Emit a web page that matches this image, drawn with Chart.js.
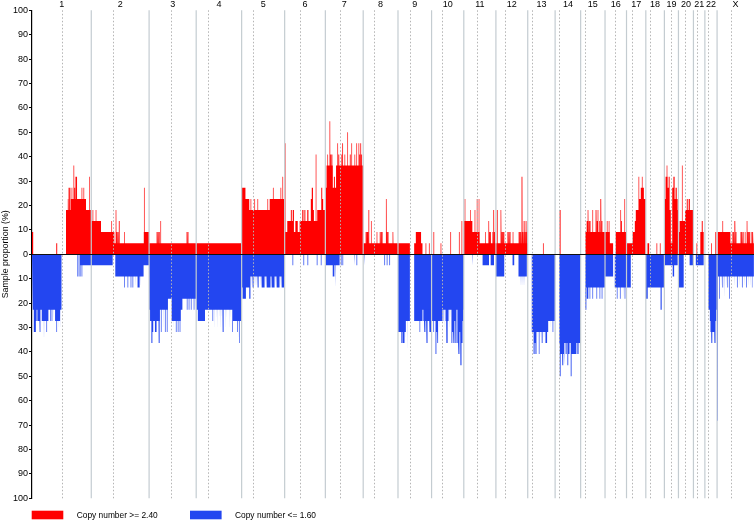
<!DOCTYPE html>
<html>
<head>
<meta charset="utf-8">
<script src="https://cdn.jsdelivr.net/npm/chart.js@4.4.1/dist/chart.umd.min.js"></script>
<style>
html,body{margin:0;padding:0;background:#fff;}
#wrap{width:754px;height:521px;position:relative;}
canvas{display:block;}
</style>
</head>
<body>
<div id="wrap"><canvas id="c" width="754" height="521"></canvas></div>
<script>
// Chromosomes (Mb, hg19-like)
const chromNames = ['1','2','3','4','5','6','7','8','9','10','11','12','13','14','15','16','17','18','19','20','21','22','X'];
const chromLengths = [249.25,243.2,198.02,191.15,180.92,171.12,159.14,146.36,141.21,135.53,135.01,133.85,115.17,107.35,102.53,90.35,81.2,78.08,59.13,63.03,48.13,51.3,155.27];
const centromeres = [125,93.3,91,50.4,48.4,63,59.9,45.6,52,42,53.7,38,17.9,17.6,19,40,24,16,26.5,27.5,13.2,14.7,60.6];
const yTickStep = 10;

// Gain (copy number >= 2.40): [chromosome, start Mb, end Mb, % samples]
const gainSegments = [
 [1,0,5,9.1],[1,102,106,4.5],[1,143,163,18.2],[1,163,227,22.7],[1,227,249,18.2],
 [2,0,41,13.6],[2,41,97,9.1],[2,97,221,4.5],[2,221,243,9.1],
 [3,0,198,4.5],
 [4,0,191,4.5],
 [5,0,16,27.3],[5,16,32,22.7],[5,32,118,18.2],[5,118,181,22.7],
 [6,0,11,9.1],[6,11,26,13.6],[6,26,30,18.2],[6,30,34,13.6],[6,34,39,18.2],[6,39,45,9.1],[6,45,55,13.6],[6,55,63,9.1],[6,63,74,13.6],[6,74,79,18.2],[6,79,83,13.6],[6,83,87,18.2],[6,87,95,13.6],[6,95,100,18.2],[6,100,110,13.6],[6,110,114,22.7],[6,114,119,27.3],[6,119,123,18.2],[6,123,137,13.6],[6,137,154,18.2],[6,154,158,27.3],[6,158,162,22.7],[6,162,171,18.2],
 [7,0,5,27.3],[7,5,31,36.4],[7,31,36,27.3],[7,36,40,31.8],[7,40,45,27.3],[7,45,159,36.4],
 [8,0,146,4.5],
 [9,0,50,4.5],[9,68,75,4.5],[9,75,97,9.1],[9,97,103,4.5],[9,116,119,4.5],[9,130,133,4.5],
 [10,8,11,9.1],[10,24,27,4.5],[10,38,41,4.5],[10,79,82,9.1],[10,91,94,4.5],[10,115,118,9.1],[10,126,129,13.6],
 [11,0,36,13.6],[11,36,66,9.1],[11,66,135,4.5],
 [12,0,134,4.5],
 [13,64,67,4.5],
 [14,19,23,18.2],
 [15,20,102.5,9.1],
 [16,0,20,9.1],[16,20,34,4.5],[16,45,90,9.1],
 [17,0,26,4.5],[17,26,35,9.1],[17,35,39,13.6],[17,39,52,18.2],[17,52,60,22.7],[17,60,73,27.3],[17,73,81,22.7],
 [18,7,14,4.5],[18,45,48,4.5],[18,59,62,4.5],
 [19,0,5,22.7],[19,5,13,31.8],[19,13,18,27.3],[19,18,22,31.8],[19,22,27,18.2],[19,27,33,4.5],[19,33,38,27.3],[19,38,43,31.8],[19,43,47,22.7],[19,47,52,27.3],[19,52,56,22.7],[19,56,59,18.2],
 [20,0,5,9.1],[20,5,10,13.6],[20,10,28,13.6],[20,28,35,18.2],[20,35,39,22.7],[20,39,43,18.2],[20,43,48,22.7],[20,48,63,18.2],
 [21,13,16,4.5],[21,29,35,9.1],[21,35,39,13.6],[21,39,43,9.1],
 [22,27,30,4.5],[22,44,48,9.1],
 [23,0,3,4.5],[23,3,56,9.1],[23,56,155,4.5]
];
// Narrow gain peaks: [chromosome, position Mb, % samples]
const gainSpikes = [
 [1,151,22.7],[1,156,27.3],[1,160,27.3],[1,168,27.3],[1,176,36.4],[1,180,27.3],[1,185,31.8],[1,188,31.8],[1,196,31.8],[1,200,27.3],[1,204,31.8],[1,210,27.3],[1,218,27.3],[1,233,31.8],[1,241,31.8],
 [2,7,18.2],[2,20,18.2],[2,47,13.6],[2,55,13.6],[2,68,13.6],[2,76,18.2],[2,86,13.6],[2,104,18.2],[2,108,9.1],[2,113,9.1],[2,118,13.6],[2,127,9.1],[2,139,9.1],[2,152,9.1],[2,173,13.6],[2,177,9.1],[2,190,9.1],[2,198,9.1],[2,223,27.3],[2,236,18.2],
 [3,33,9.1],[3,38,9.1],[3,43,9.1],[3,49,13.6],[3,56,9.1],[3,60,9.1],[3,120,9.1],[3,159,9.1],[3,164,9.1],
 [4,86,9.1],[4,186,9.1],
 [5,39,22.7],[5,55,22.7],[5,68,22.7],[5,110,22.7],[5,125,31.8],[5,133,27.3],[5,142,27.3],[5,165,27.3],[5,173,31.8],
 [6,2,45.5],[6,132,40.9],
 [7,10,40.9],[7,13,40.9],[7,19,54.5],[7,23,40.9],[7,28,40.9],[7,47,40.9],[7,52,45.5],[7,57,40.9],[7,60,40.9],[7,64,40.9],[7,69,40.9],[7,73,45.5],[7,82,40.9],[7,85,40.9],[7,94,50.0],[7,102,40.9],[7,105,40.9],[7,111,45.5],[7,124,40.9],[7,127,40.9],[7,132,45.5],[7,141,45.5],[7,145,40.9],[7,149,45.5],[7,153,40.9],[7,156,40.9],
 [8,9,22.7],[8,13,9.1],[8,17,9.1],[8,20,9.1],[8,24,18.2],[8,34,13.6],[8,58,9.1],[8,71,9.1],[8,76,9.1],[8,80,9.1],[8,97,22.7],[8,101,9.1],[8,105,9.1],[8,111,13.6],[8,125,9.1],[8,128,9.1],[8,132,13.6],
 [11,5,22.7],[11,16,18.2],[11,24,22.7],[11,29,18.2],[11,47,18.2],[11,56,22.7],[11,64,22.7],[11,79,9.1],[11,92,9.1],[11,105,13.6],[11,109,9.1],[11,113,9.1],[11,122,9.1],[11,126,18.2],[11,130,9.1],
 [12,3,9.1],[12,6,18.2],[12,11,9.1],[12,15,9.1],[12,21,18.2],[12,26,9.1],[12,30,9.1],[12,34,9.1],[12,50,9.1],[12,55,9.1],[12,60,9.1],[12,66,9.1],[12,72,9.1],[12,78,9.1],[12,97,9.1],[12,101,9.1],[12,105,9.1],[12,110,31.8],[12,114,9.1],[12,119,13.6],[12,123,9.1],[12,127,13.6],[12,131,9.1],
 [15,24,13.6],[15,28,13.6],[15,31,18.2],[15,36,13.6],[15,40,13.6],[15,51,18.2],[15,62,13.6],[15,65,18.2],[15,70,13.6],[15,73,18.2],[15,80,13.6],[15,85,22.7],[15,90,13.6],
 [16,9,13.6],[16,17,13.6],[16,56,13.6],[16,66,18.2],[16,70,13.6],[16,83,22.7],
 [17,52,31.8],[17,66,31.8],
 [19,11,36.4],
 [20,16,36.4],[20,21,31.8],
 [23,24,13.6],[23,60,9.1],[23,66,9.1],[23,70,9.1],[23,75,13.6],[23,80,9.1],[23,86,9.1],[23,100,9.1],[23,104,9.1],[23,110,9.1],[23,118,9.1],[23,126,13.6],[23,130,9.1],[23,134,9.1],[23,138,9.1],[23,146,9.1],[23,150,9.1],[23,153,9.1]
];
// Loss (copy number <= 1.60): [chromosome, start Mb, end Mb, % samples]
const lossSegments = [
 [1,0,4,13.6],[1,4,41,22.7],[1,41,69,27.3],[1,69,97,22.7],[1,97,118,27.3],[1,118,124,22.7],[1,191,195,9.1],[1,200,204,9.1],[1,204,249,4.5],
 [2,0,90,4.5],[2,101,220,9.1],[2,220,243,4.5],
 [3,0,4,22.7],[3,4,45,27.3],[3,45,79,22.7],[3,79,95,18.2],[3,95,133,27.3],[3,133,140,22.7],[3,140,198,18.2],
 [4,0,7,22.7],[4,7,37,27.3],[4,37,154,22.7],[4,154,191,27.3],
 [5,0,4,13.6],[5,4,18,18.2],[5,18,32,13.6],[5,32,37,18.2],[5,37,181,9.1],
 [6,33,36,4.5],[6,79,82,4.5],[6,96,99,4.5],[6,135,138,4.5],[6,152,155,4.5],
 [7,2,31,4.5],[7,31,38,9.1],[7,38,41,4.5],[7,41,44,13.6],[7,44,60,4.5],[7,65,68,4.5],[7,72,75,4.5],[7,121,124,4.5],[7,131,134,4.5],
 [8,4,7,4.5],[8,89,92,4.5],[8,99,102,4.5],[8,110,113,4.5],
 [9,0,33,31.8],[9,33,50,27.3],[9,68,103,27.3],[9,103,141,22.7],
 [10,0,45,27.3],[10,45,135.5,22.7],
 [11,35,38,4.5],[11,79,106,4.5],[11,113,127,4.5],
 [12,0,35,9.1],[12,70,77,4.5],[12,95,130,9.1],
 [13,17,86,31.8],[13,86,115,27.3],
 [14,18,107,36.4],
 [15,20,24,22.7],[15,24,102.5,13.6],
 [16,0,34,9.1],[16,41,90,13.6],
 [17,0,18,13.6],
 [18,0,8,18.2],[18,8,62,13.6],[18,62,65,22.7],[18,65,68,18.2],[18,68,78,13.6],
 [19,0,35,4.5],[19,35,41,9.1],[19,41,56,4.5],
 [20,0,22,13.6],[20,47,61,4.5],
 [21,10,43,4.5],
 [22,15,21,22.7],[22,21,48,27.3],[22,48,51,22.7],
 [23,0,2,9.1],[23,2,4,68.2],[23,4,155,9.1]
];
// Narrow loss peaks: [chromosome, position Mb, % samples]
const lossSpikes = [
 [1,8,31.8],[1,14,31.8],[1,18,27.3],[1,24,27.3],[1,30,27.3],[1,34,31.8],[1,49,36.4],[1,53,36.4],[1,62,31.8],[1,77,27.3],[1,84,27.3],[1,90,27.3],[1,104,31.8],[1,111,31.8],[1,120,31.8],[1,210,9.1],
 [2,139,13.6],[2,154,13.6],[2,167,13.6],[2,175,13.6],[2,186,13.6],[2,196,13.6],[2,202,13.6],[2,207,13.6],
 [3,11,36.4],[3,16,31.8],[3,26,31.8],[3,30,31.8],[3,39,31.8],[3,43,36.4],[3,51,31.8],[3,60,31.8],[3,68,31.8],[3,76,31.8],[3,103,31.8],[3,114,31.8],[3,122,31.8],[3,130,31.8],[3,160,22.7],[3,168,22.7],[3,177,22.7],[3,189,22.7],[3,195,22.7],
 [4,70,27.3],[4,77,31.8],[4,85,27.3],[4,89,31.8],[4,98,27.3],[4,102,31.8],[4,106,27.3],[4,110,27.3],[4,114,31.8],[4,123,31.8],[4,127,27.3],[4,140,31.8],[4,144,27.3],[4,152,31.8],[4,173,31.8],[4,178,36.4],[4,183,36.4],
 [5,41,13.6],[5,45,13.6],[5,49,13.6],[5,54,13.6],[5,58,13.6],[5,62,13.6],[5,66,13.6],[5,70,13.6],[5,79,13.6],[5,83,13.6],[5,87,13.6],[5,91,13.6],[5,95,13.6],[5,100,13.6],[5,104,13.6],[5,108,13.6],[5,112,13.6],[5,116,13.6],[5,120,13.6],[5,125,13.6],[5,129,13.6],[5,133,13.6],[5,137,13.6],[5,142,13.6],[5,146,13.6],[5,150,13.6],[5,154,13.6],[5,158,13.6],[5,163,13.6],[5,167,13.6],[5,171,13.6],[5,175,13.6],[5,179,13.6],
 [9,14,36.4],[9,20,36.4],[9,26,36.4],[9,31,36.4],[9,40,40.9],[9,92,31.8],[9,108,27.3],[9,113,31.8],[9,117,27.3],[9,122,36.4],[9,126,27.3],[9,130,27.3],[9,134,31.8],[9,138,31.8],
 [10,9,31.8],[10,18,40.9],[10,22,31.8],[10,26,36.4],[10,34,31.8],[10,48,27.3],[10,55,31.8],[10,60,27.3],[10,64,36.4],[10,70,27.3],[10,76,31.8],[10,80,27.3],[10,85,36.4],[10,89,31.8],[10,94,36.4],[10,98,27.3],[10,102,36.4],[10,105,31.8],[10,110,36.4],[10,115,40.9],[10,119,31.8],[10,123,45.5],[10,128,36.4],[10,132,27.3],
 [12,103,13.6],[12,108,13.6],[12,112,13.6],[12,116,13.6],[12,120,13.6],
 [13,20,36.4],[13,26,40.9],[13,31,36.4],[13,34,40.9],[13,37,36.4],[13,41,36.4],[13,48,40.9],[13,53,36.4],[13,58,36.4],[13,61,36.4],[13,66,36.4],[13,71,36.4],[13,76,36.4],[13,80,36.4],[13,96,31.8],[13,106,31.8],
 [14,21,50.0],[14,25,40.9],[14,28,40.9],[14,32,45.5],[14,36,40.9],[14,39,45.5],[14,43,40.9],[14,47,40.9],[14,53,45.5],[14,57,40.9],[14,61,40.9],[14,67,50.0],[14,71,40.9],[14,75,40.9],[14,80,40.9],[14,84,40.9],[14,88,40.9],[14,95,40.9],[14,99,40.9],[14,103,40.9],
 [15,27,18.2],[15,31,18.2],[15,39,18.2],[15,51,18.2],[15,68,18.2],[15,81,18.2],[15,90,18.2],
 [16,51,18.2],[16,64,18.2],[16,77,18.2],[16,84,18.2],
 [22,25,31.8],[22,29,36.4],[22,33,31.8],[22,38,31.8],[22,42,36.4],[22,45,31.8],
 [23,11,18.2],[23,18,13.6],[23,24,13.6],[23,31,18.2],[23,39,13.6],[23,45,13.6],[23,53,18.2],[23,73,13.6],[23,85,13.6],[23,94,13.6],[23,106,13.6],[23,115,13.6],[23,123,13.6],[23,132,13.6],[23,140,13.6],[23,148,13.6]
];
const legendLabels = ['Copy number >= 2.40','Copy number <= 1.60'];
const yTitle = 'Sample proportion (%)';

const RED = '#ff0000';
const BLUE = '#2346f0';
const FONT = '"Liberation Sans", Arial, Helvetica, sans-serif';

const offsets = [];
let acc = 0;
chromLengths.forEach(l => { offsets.push(acc); acc += l; });
const genomeLength = acc;

const SPIKE_W = 2.8;
function spikeSegs(sp){ return sp.map(([c,p,v]) => [c, p - SPIKE_W/2, p + SPIKE_W/2, v]); }
function buildPath(segs, sign){
  const rects = segs.map(([c,s,e,v]) => [offsets[c-1]+s, offsets[c-1]+e, sign*v]).sort((a,b)=>a[0]-b[0]);
  const pts = [];
  for (const [s,e,v] of rects){
    pts.push({x:s,y:0},{x:s,y:v},{x:e,y:v},{x:e,y:0});
  }
  return pts;
}
function ds(data, color){
  return {data, backgroundColor: color, borderColor: 'rgba(0,0,0,0)', borderWidth: 0, fill: 'origin', pointRadius: 0, pointHoverRadius: 0, tension: 0};
}

const overlay = {
  id: 'overlay',
  afterDatasetsDraw(chart){
    const {ctx, chartArea: a, scales: {x, y}} = chart;
    ctx.save();
    ctx.strokeStyle = '#c4ccd1';
    ctx.lineWidth = 1.2;
    for (let i = 1; i < chromLengths.length; i++){
      const px = x.getPixelForValue(offsets[i]);
      ctx.beginPath(); ctx.moveTo(px, a.top); ctx.lineTo(px, a.bottom); ctx.stroke();
    }
    ctx.strokeStyle = '#b4b4b4';
    ctx.lineWidth = 1;
    ctx.setLineDash([1.5, 2]);
    for (let i = 0; i < chromLengths.length; i++){
      const px = Math.round(x.getPixelForValue(offsets[i] + centromeres[i])) + 0.5;
      ctx.beginPath(); ctx.moveTo(px, a.top); ctx.lineTo(px, a.bottom); ctx.stroke();
    }
    ctx.setLineDash([]);
    const y0 = Math.round(y.getPixelForValue(0)) + 0.5;
    ctx.strokeStyle = '#111';
    ctx.lineWidth = 1.2;
    ctx.beginPath(); ctx.moveTo(a.left, y0); ctx.lineTo(a.right, y0); ctx.stroke();
    ctx.restore();
  },
  afterDraw(chart){
    const {ctx, chartArea: a, scales: {x}} = chart;
    ctx.save();
    ctx.fillStyle = '#000';
    ctx.font = '9px ' + FONT;
    ctx.textAlign = 'center';
    ctx.textBaseline = 'middle';
    for (let i = 0; i < chromLengths.length; i++){
      const px = x.getPixelForValue(offsets[i] + chromLengths[i]/2);
      ctx.fillText(chromNames[i], px, 4.8);
    }
    ctx.save();
    ctx.translate(5.5, (a.top + a.bottom)/2);
    ctx.rotate(-Math.PI/2);
    ctx.font = '8.8px ' + FONT;
    ctx.fillText(yTitle, 0, 0);
    ctx.restore();
    const ly = 510.7, lh = 8.6, lw = 31.6;
    const items = [[a.left - 0.3, RED], [190, BLUE]];
    ctx.font = '8.4px ' + FONT;
    ctx.textAlign = 'left';
    items.forEach(([lx, col], i) => {
      ctx.fillStyle = col;
      ctx.fillRect(lx, ly, lw, lh);
      ctx.fillStyle = '#000';
      ctx.fillText(legendLabels[i], lx + 45, ly + lh/2 + 0.3);
    });
    ctx.restore();
  }
};

new Chart(document.getElementById('c'), {
  type: 'line',
  data: {
    datasets: [
      ds(buildPath(gainSegments, 1), RED),
      ds(buildPath(spikeSegs(gainSpikes), 1), RED),
      ds(buildPath(lossSegments, -1), BLUE),
      ds(buildPath(spikeSegs(lossSpikes), -1), BLUE)
    ]
  },
  options: {
    responsive: false,
    animation: false,
    devicePixelRatio: 1,
    events: [],
    layout: {padding: {top: 10.3, bottom: 22.7, left: 0, right: 0}},
    plugins: {legend: {display: false}, tooltip: {enabled: false}},
    scales: {
      x: {type: 'linear', min: 0, max: genomeLength, display: false},
      y: {
        min: -100, max: 100,
        ticks: {stepSize: yTickStep, autoSkip: false, callback: v => Math.abs(v), color: '#000', padding: 1, font: {size: 9, family: FONT}},
        grid: {drawOnChartArea: false, drawTicks: true, tickLength: 3, color: '#000', lineWidth: 1},
        border: {display: true, color: '#000', width: 1.2},
        afterFit(scale){ scale.width = 32; }
      }
    }
  },
  plugins: [overlay]
});
</script>
</body>
</html>
